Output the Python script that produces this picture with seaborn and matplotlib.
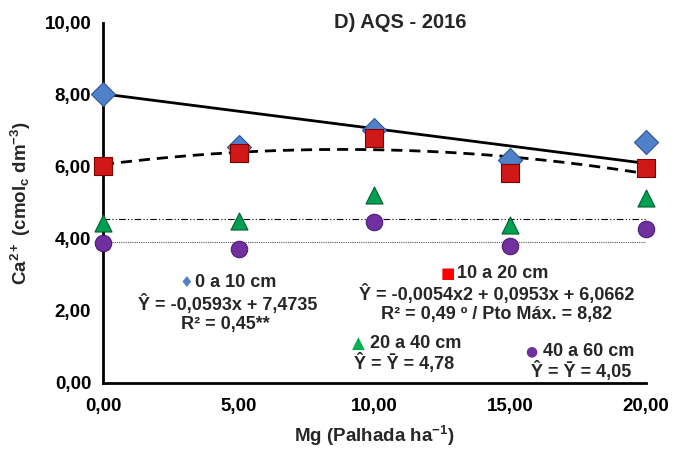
import matplotlib
matplotlib.use("Agg")
import matplotlib.pyplot as plt
import seaborn as sns
import numpy as np
import pandas as pd

# doses of Mg
doses = [0, 5, 10, 15, 20]

# Ca2+ by depth
ca_0_10 = [8.02, 6.55, 7.02, 6.20, 6.70]
ca_10_20 = [6.02, 6.40, 6.80, 5.83, 5.97]
ca_20_40 = [4.45, 4.50, 5.22, 4.40, 5.13]
ca_40_60 = [3.89, 3.73, 4.47, 3.80, 4.28]

depths = ["0 a 10 cm", "10 a 20 cm", "20 a 40 cm", "40 a 60 cm"]
colors = ["#4F81C8", "#D01818", "#00A050", "#7030A0"]
edges = ["#2F5597", "#7F0000", "#006030", "#4B1A75"]
markers = ["D", "s", "^", "o"]
sizes = [150, 150, 150, 140]

# fitted curves as drawn
line_0_10 = [-0.0965, 8.03]
curve_10_20 = [-0.0054, 0.0953, 6.0662]
mean_20_40 = 4.55
mean_40_60 = 3.91

df = pd.DataFrame({
    "dose": doses * 4,
    "ca": ca_0_10 + ca_10_20 + ca_20_40 + ca_40_60,
    "depth": np.repeat(depths, len(doses)),
})

sns.set_style("white")
plt.rcParams["font.family"] = ["Liberation Sans", "DejaVu Sans"]
plt.rcParams["font.weight"] = "bold"
plt.rcParams["mathtext.fontset"] = "custom"
plt.rcParams["mathtext.rm"] = "Liberation Sans:bold"
plt.rcParams["mathtext.it"] = "Liberation Sans:bold"
plt.rcParams["mathtext.bf"] = "Liberation Sans:bold"
plt.rcParams["mathtext.default"] = "rm"

fig = plt.figure(figsize=(6.84, 4.5), dpi=100)
ax = fig.add_axes([0.1506, 0.149, 0.7935, 0.80])

xs = np.linspace(0, 20, 200)
ax.plot(xs, np.polyval(line_0_10, xs), color="black", lw=2, zorder=2)
ax.plot(xs, np.polyval(curve_10_20, xs), color="black", lw=2,
        linestyle=(0, (4, 2.5)), zorder=2)
ax.hlines(mean_20_40, 0, 20, color="black", lw=0.8,
          linestyles=[(0, (6, 2, 1, 2, 1, 2))], zorder=1)
ax.hlines(mean_40_60, 0, 20, color="#555555", lw=0.8,
          linestyles=[(0, (1, 1))], zorder=1)

for d, c, e, m, s in zip(depths, colors, edges, markers, sizes):
    sub = df[df["depth"] == d]
    sns.scatterplot(data=sub, x="dose", y="ca", marker=m, color=c,
                    edgecolor=e, linewidth=0.8, s=s, ax=ax, zorder=3,
                    legend=False, clip_on=False)

ax.set_xlim(0, 20)
ax.set_ylim(0, 10)
ax.set_xticks([0, 5, 10, 15, 20])
ax.set_yticks([0, 2, 4, 6, 8, 10])
ax.set_xticklabels(["0,00", "5,00", "10,00", "15,00", "20,00"])
ax.set_yticklabels(["0,00", "2,00", "4,00", "6,00", "8,00", "10,00"])
ax.tick_params(axis="both", direction="inout", length=10, width=1.5,
               labelsize=13.5, colors="black")
ax.tick_params(axis="x", pad=6)
for lab in ax.get_xticklabels() + ax.get_yticklabels():
    lab.set_fontweight("bold")

for side in ["top", "right"]:
    ax.spines[side].set_visible(False)
for side in ["left", "bottom"]:
    ax.spines[side].set_color("black")
    ax.spines[side].set_linewidth(2)

ax.set_xlabel("Mg (Palhada ha$^{-1}$)", fontsize=13.5,
              fontweight="bold", labelpad=6)
ax.set_ylabel("Ca$^{2+}$ (cmol$_{c}$ dm$^{-3}$)",
              fontsize=13.5, fontweight="bold", labelpad=8)
ax.text(0.547, 1.0, "D) AQS - 2016", transform=ax.transAxes, fontsize=14.5,
        fontweight="bold", ha="center", va="center")

fs = 13
sym = ["DejaVu Sans"]
# 0 a 10 cm
ax.text(3.05, 2.80, "\u2666", color=colors[0], fontsize=11, family=sym,
        ha="center", va="center")
ax.text(3.4, 2.80, "0 a 10 cm", fontsize=fs, fontweight="bold", va="center")
ax.text(4.6, 2.20, "\u0176 = -0,0593x + 7,4735", fontsize=fs,
        fontweight="bold", ha="center", va="center")
ax.text(4.5, 1.62, "R\u00b2 = 0,45**", fontsize=fs, fontweight="bold",
        ha="center", va="center")
# 10 a 20 cm
ax.text(12.7, 3.04, "\u25a0", color="#FF0000", fontsize=11, family=sym,
        ha="center", va="center")
ax.text(13.05, 3.04, "10 a 20 cm", fontsize=fs, fontweight="bold",
        va="center")
ax.text(14.5, 2.48, "\u0176 = -0,0054x2 + 0,0953x + 6,0662", fontsize=fs,
        fontweight="bold", ha="center", va="center")
ax.text(14.5, 1.90, "R\u00b2 = 0,49 \u00ba / Pto M\u00e1x. = 8,82",
        fontsize=fs, fontweight="bold", ha="center", va="center")
# 20 a 40 cm
ax.text(9.4, 1.09, "\u25b2", color="#00B050", fontsize=12, family=sym,
        ha="center", va="center")
ax.text(9.85, 1.09, "20 a 40 cm", fontsize=fs, fontweight="bold",
        va="center")
ax.text(11.1, 0.55, "\u0176 = \u0232 = 4,78", fontsize=fs,
        fontweight="bold", ha="center", va="center")
# 40 a 60 cm
ax.text(15.8, 0.88, "\u25cf", color=colors[3], fontsize=10, family=sym,
        ha="center", va="center")
ax.text(16.2, 0.88, "40 a 60 cm", fontsize=fs, fontweight="bold",
        va="center")
ax.text(17.6, 0.33, "\u0176 = \u0232 = 4,05", fontsize=fs,
        fontweight="bold", ha="center", va="center")

fig.savefig("out.png", dpi=100)
